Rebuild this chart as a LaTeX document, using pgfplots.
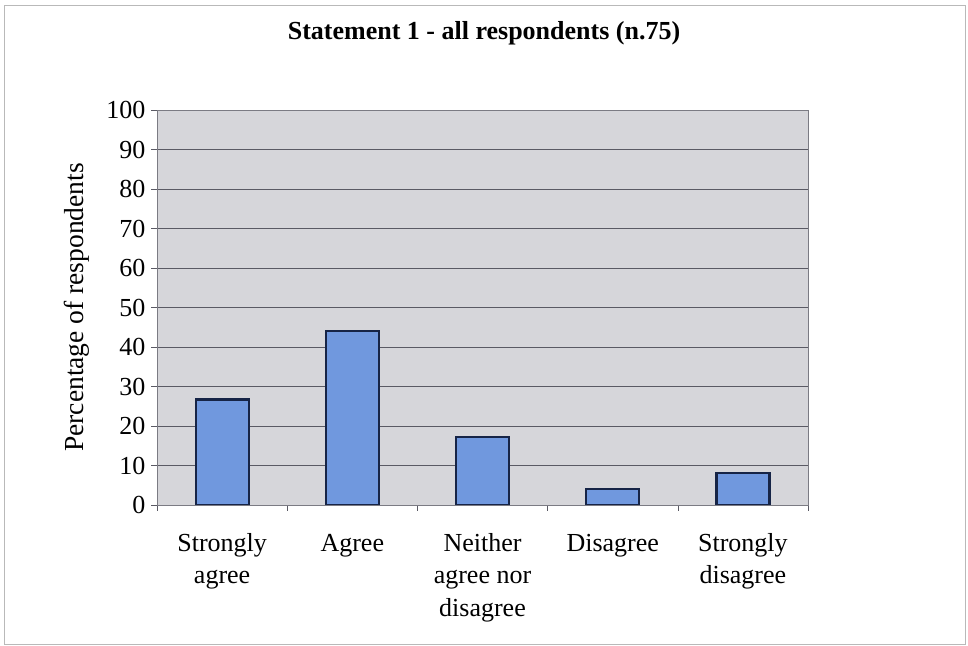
\documentclass[border=0pt]{standalone}
\usepackage{pgfplots}
\pgfplotsset{compat=1.18}
\usepackage{fontspec}
\setmainfont{Liberation Serif}

\definecolor{barfill}{RGB}{112,152,222}
\definecolor{baredge}{RGB}{22,36,70}
\definecolor{plotbg}{RGB}{214,214,218}
\definecolor{gridc}{RGB}{90,90,100}

\begin{document}
\begin{tikzpicture}[x=1bp,y=1bp]
  \path[use as bounding box] (0,0) rectangle (968,646);
  \draw[gray!55, line width=0.8bp] (4,2) rectangle (965,641);
  \node[font=\fontsize{26bp}{30bp}\selectfont\bfseries] at (484,613) {Statement 1 - all respondents (n.75)};
  \begin{axis}[
    at={(157bp,141bp)}, anchor=south west,
    scale only axis, width=651bp, height=395bp,
    xmin=0.5, xmax=5.5, ymin=0, ymax=100,
    axis background/.style={fill=plotbg},
    axis line style={draw=gridc!80, line width=0.6bp},
    ytick={0,10,...,100},
    ymajorgrids, major grid style={draw=gridc, line width=0.6bp},
    xtick={1,...,5},
    xticklabels={{\strut Strongly\\agree},{\strut Agree},{\strut Neither\\agree nor\\disagree},{\strut Disagree},{\strut Strongly\\disagree}},
    minor xtick={0.5,1.5,...,5.5},
    xtick pos=bottom, ytick pos=left,
    tick align=outside,
    major tick length=6bp, minor tick length=6bp,
    major x tick style={draw=none},
    tick style={draw=gridc, line width=0.6bp},
    ticklabel style={font=\fontsize{26bp}{32.5bp}\selectfont},
    xticklabel style={align=center, anchor=north, yshift=-14bp},
    yticklabel style={xshift=-2bp},
    /pgf/number format/assume math mode=true,
    ylabel={Percentage of respondents},
    ylabel style={font=\fontsize{27.5bp}{30bp}\selectfont, yshift=10bp},
  ]
    \addplot[ybar, bar width=53bp, fill=barfill, draw=baredge, line width=2.2bp]
      coordinates {(1,26.7) (2,44) (3,17.3) (4,4) (5,8)};
  \end{axis}
\end{tikzpicture}
\end{document}
